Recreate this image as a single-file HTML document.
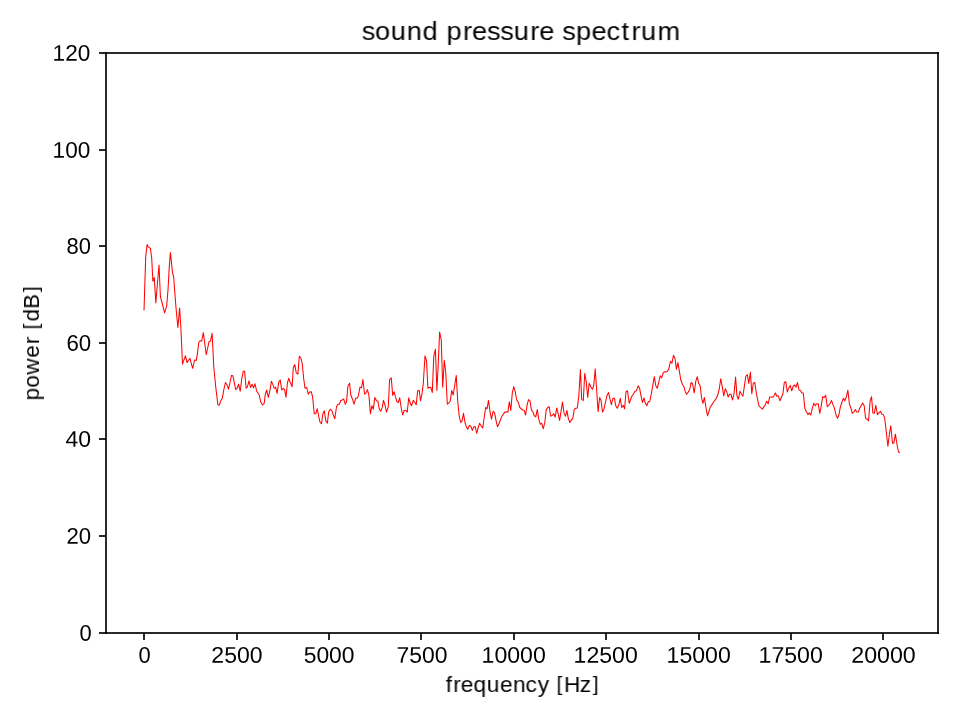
<!DOCTYPE html>
<html><head><meta charset="utf-8"><title>sound pressure spectrum</title>
<style>
html,body{margin:0;padding:0;background:#fff;}
body{width:960px;height:720px;overflow:hidden;font-family:"Liberation Sans",sans-serif;}
svg{display:block;}
text{font-family:"Liberation Sans",sans-serif;fill:#000;font-kerning:none;}
.ax rect{fill:#000;fill-opacity:0.835;shape-rendering:crispEdges;}
</style></head><body>
<svg width="960" height="720" viewBox="0 0 960 720">
<rect x="0" y="0" width="960" height="720" fill="#ffffff"/>
<polyline points="144.00,310.40 145.70,256.70 147.10,244.60 148.30,247.10 150.40,248.30 151.70,258.00 152.90,281.30 154.30,277.50 155.80,302.90 157.40,284.00 159.00,265.00 160.40,296.70 162.00,302.50 163.30,307.50 164.60,312.90 166.70,305.80 168.00,290.00 169.20,268.00 170.40,252.50 172.50,272.50 173.75,277.50 174.60,290.00 176.20,310.00 177.90,327.50 179.60,307.90 181.00,330.00 182.50,364.20 185.40,355.80 187.10,362.50 188.60,360.00 190.00,358.30 191.40,364.00 192.70,368.30 194.60,360.00 196.25,360.40 197.50,353.30 198.75,342.50 200.00,340.80 201.70,341.25 203.30,332.50 204.80,344.00 206.25,354.60 207.70,348.00 209.00,341.70 210.40,341.25 212.10,333.30 213.75,366.70 215.80,387.50 217.90,405.00 219.30,405.00 220.80,400.80 222.30,398.30 223.75,390.00 225.40,382.50 226.90,384.60 228.50,389.20 230.00,382.50 231.50,375.40 232.90,375.80 234.60,384.20 235.80,389.60 237.10,388.30 238.60,384.20 240.20,391.25 241.70,379.20 243.20,371.25 244.60,371.25 246.10,388.30 247.50,386.70 249.00,380.80 250.60,387.50 252.10,384.20 253.60,387.90 255.00,383.75 256.70,391.25 259.20,395.00 260.80,402.10 262.50,405.00 264.20,403.30 265.20,395.00 266.70,390.00 268.30,397.50 269.80,390.80 271.40,381.25 272.90,384.60 274.20,388.30 275.60,387.10 277.10,393.30 278.75,382.10 280.25,380.00 281.70,390.00 283.30,388.30 284.60,389.60 286.00,397.10 287.50,382.50 288.75,378.30 290.00,381.70 292.10,386.70 293.30,367.50 294.80,364.60 296.25,372.90 297.90,374.20 299.30,356.25 300.80,357.90 302.30,364.20 303.75,379.20 305.00,388.30 306.70,387.50 308.30,394.20 309.60,392.10 311.25,391.70 312.70,397.50 314.20,413.75 315.70,413.75 317.25,408.75 318.75,416.70 320.00,422.10 321.50,423.75 322.75,414.20 324.30,410.80 325.80,420.80 327.30,423.30 328.75,411.70 330.40,409.20 331.90,410.80 333.30,415.00 334.80,418.75 336.50,406.70 337.90,404.20 339.40,404.20 340.80,400.40 342.30,400.00 343.60,398.75 345.25,404.20 346.50,402.10 347.90,386.25 349.60,383.30 350.80,395.00 352.50,399.20 354.00,404.20 355.70,398.30 357.10,398.30 358.30,396.25 360.00,387.10 361.50,387.90 362.90,379.60 364.60,394.20 366.00,392.90 367.50,389.60 369.00,396.25 370.40,413.75 371.90,405.80 373.30,409.20 374.80,397.50 376.50,400.80 377.90,401.25 379.20,408.75 380.70,411.25 382.10,407.90 383.50,400.40 385.00,405.00 386.50,412.10 388.30,406.70 389.60,379.60 391.25,377.90 392.70,395.40 394.10,391.70 395.40,396.70 396.90,401.70 398.30,402.50 399.75,397.70 401.25,408.30 402.70,415.00 404.20,410.40 405.70,410.40 407.25,412.10 408.75,397.70 410.00,402.50 411.50,405.80 413.30,400.40 414.80,402.50 416.25,404.60 417.60,391.00 419.20,390.20 420.50,400.80 422.10,393.30 423.30,383.30 425.00,355.80 426.50,360.80 427.90,388.30 429.20,387.50 430.80,387.30 432.30,392.50 433.75,356.70 435.40,349.20 436.90,390.40 438.30,363.00 439.60,332.10 441.25,339.60 442.70,387.30 444.30,360.40 445.80,373.00 447.30,404.20 448.75,402.90 450.25,401.25 451.70,390.40 453.20,395.00 454.60,386.00 456.25,375.40 457.75,401.70 459.20,416.00 460.70,422.50 462.10,420.80 463.50,413.30 465.00,422.50 466.25,426.70 467.75,429.20 469.30,425.40 470.80,426.25 472.30,430.40 473.75,426.70 475.25,426.70 476.70,433.30 478.20,427.50 479.60,423.30 481.10,425.80 482.70,427.90 484.20,417.50 485.70,407.50 487.10,408.75 488.50,400.40 490.00,411.70 491.50,419.20 493.10,411.25 494.60,412.90 496.10,420.80 497.50,426.70 499.20,423.30 500.40,420.00 501.90,416.25 503.30,414.20 505.00,412.10 506.50,411.70 507.90,412.10 509.30,401.70 510.80,410.40 512.30,392.90 513.75,386.70 515.20,391.70 516.70,400.00 518.20,402.10 519.75,407.50 521.25,408.75 522.75,410.00 524.20,410.40 525.60,415.00 527.10,405.00 528.50,399.60 530.00,400.80 531.50,410.40 532.90,411.70 534.30,415.80 535.80,416.70 537.30,409.60 538.75,419.20 540.25,424.20 541.70,423.30 543.30,428.75 544.80,422.50 546.25,409.60 547.75,407.50 549.20,406.70 550.70,416.25 552.25,415.40 553.75,413.75 555.20,417.10 556.70,407.90 558.20,414.20 559.60,420.40 561.00,411.70 562.50,402.10 564.00,412.90 565.60,416.25 566.90,410.40 568.30,418.30 569.80,422.50 571.25,420.00 572.75,418.75 574.30,409.20 575.80,408.30 577.30,407.90 578.75,396.70 580.40,369.60 581.70,399.60 583.30,400.40 584.75,373.30 586.25,381.70 587.70,397.50 589.20,383.30 590.80,386.70 592.30,389.20 593.75,385.80 595.20,368.75 596.70,390.80 598.10,411.70 599.60,397.50 601.00,400.40 602.50,412.10 604.00,409.20 605.40,402.50 606.90,395.80 608.50,392.50 610.00,399.20 611.40,404.60 612.90,398.30 614.40,398.30 615.80,405.80 617.30,408.30 618.75,405.00 620.25,398.30 621.70,407.50 623.30,405.40 624.60,408.75 626.00,391.70 627.50,390.80 629.20,403.30 630.70,399.20 632.10,395.80 633.60,393.75 635.00,391.25 636.40,390.80 638.10,385.80 639.60,388.30 641.00,395.80 642.50,402.50 644.00,397.90 645.40,403.30 646.80,405.80 648.30,401.70 649.80,401.25 651.25,394.20 652.70,385.80 654.30,376.70 655.80,385.80 657.25,388.30 658.75,382.50 660.20,375.80 661.70,377.90 663.20,372.90 664.60,371.70 666.10,372.10 667.50,371.25 669.00,368.30 670.40,361.25 671.90,363.30 673.50,355.40 675.00,358.30 676.40,369.20 677.90,362.50 679.30,370.80 680.80,380.00 682.30,384.20 683.90,386.70 685.25,391.70 686.70,394.20 688.20,392.10 689.60,390.00 691.10,382.50 692.50,383.75 694.20,392.90 695.70,381.70 697.25,376.70 698.60,383.30 700.20,385.80 701.50,397.50 702.90,403.30 704.40,397.50 705.80,406.70 707.50,415.80 708.90,411.70 710.40,406.70 711.90,404.60 713.30,402.50 715.00,400.00 716.40,398.30 717.75,395.00 719.20,389.20 720.70,378.75 722.10,385.80 723.75,395.80 725.25,388.75 726.70,391.70 728.20,397.10 729.60,394.20 731.10,394.60 732.50,400.00 734.00,393.75 735.60,377.10 736.90,395.40 738.30,399.20 740.00,391.25 741.40,394.20 742.90,396.25 744.30,386.70 745.80,376.25 747.30,374.60 748.75,383.30 750.40,372.10 751.80,393.75 753.30,383.30 754.80,382.50 756.25,392.50 757.70,400.00 759.00,405.80 760.60,407.50 762.30,409.20 763.75,407.10 765.25,405.00 766.70,401.25 768.20,403.75 769.60,397.10 771.10,397.10 772.50,397.30 774.00,395.80 775.40,392.90 776.90,396.25 778.30,395.80 780.00,400.80 781.40,397.50 782.90,393.75 784.30,382.50 785.80,381.70 787.30,392.10 788.75,387.90 790.25,385.40 791.70,390.80 793.20,386.25 794.60,385.00 796.10,387.10 797.50,382.50 799.00,390.00 800.40,390.40 801.90,392.90 803.30,392.90 804.80,408.30 806.40,411.70 807.90,414.60 809.30,412.90 810.80,415.00 812.30,408.30 813.75,403.30 815.25,405.80 816.70,403.75 818.20,403.75 819.80,413.30 821.25,405.80 822.70,396.70 824.20,397.50 825.70,395.40 827.25,406.70 828.60,405.40 830.00,403.75 831.50,400.40 832.90,404.60 834.40,407.90 835.80,414.20 837.50,418.30 838.90,415.00 840.40,406.70 841.90,402.50 843.30,398.30 844.80,400.80 846.40,396.70 847.90,390.20 849.40,404.20 850.80,407.50 852.30,413.30 853.75,412.10 855.25,409.60 856.70,412.10 858.30,412.10 859.75,408.30 861.25,405.40 862.70,402.90 864.20,405.80 865.60,418.30 867.10,419.20 868.60,420.80 870.00,401.70 871.50,396.70 872.90,412.90 874.30,413.30 875.80,405.40 877.50,414.60 878.90,412.90 880.40,411.25 881.90,414.20 883.30,414.60 884.75,418.30 886.25,431.70 887.90,446.20 889.30,435.00 890.75,425.80 892.50,443.30 893.75,443.30 895.40,434.20 897.10,445.00 898.50,452.10 900.00,452.50" fill="none" stroke="#ff0000" stroke-width="1.04" stroke-linejoin="round" stroke-linecap="butt"/>
<g class="ax">
<rect x="105" y="52" width="834" height="2"/>
<rect x="105" y="632" width="834" height="2"/>
<rect x="105" y="52" width="2" height="582"/>
<rect x="937" y="52" width="2" height="582"/>
<rect x="143" y="633" width="2" height="7"/>
<rect x="236" y="633" width="2" height="7"/>
<rect x="328" y="633" width="2" height="7"/>
<rect x="420" y="633" width="2" height="7"/>
<rect x="513" y="633" width="2" height="7"/>
<rect x="605" y="633" width="2" height="7"/>
<rect x="698" y="633" width="2" height="7"/>
<rect x="790" y="633" width="2" height="7"/>
<rect x="882" y="633" width="2" height="7"/>
<rect x="99" y="632" width="7" height="2"/>
<rect x="99" y="535" width="7" height="2"/>
<rect x="99" y="438" width="7" height="2"/>
<rect x="99" y="342" width="7" height="2"/>
<rect x="99" y="245" width="7" height="2"/>
<rect x="99" y="149" width="7" height="2"/>
<rect x="99" y="52" width="7" height="2"/>
</g>
<g opacity="0.999">
<text transform="translate(138.54 662.80) rotate(0.03)" font-size="22.7" textLength="12.17" lengthAdjust="spacingAndGlyphs">0</text>
<text transform="translate(211.34 662.80) rotate(0.03)" font-size="22.7" textLength="51.16" lengthAdjust="spacingAndGlyphs">2500</text>
<text transform="translate(303.71 662.80) rotate(0.03)" font-size="22.7" textLength="50.79" lengthAdjust="spacingAndGlyphs">5000</text>
<text transform="translate(396.58 662.80) rotate(0.03)" font-size="22.7" textLength="50.92" lengthAdjust="spacingAndGlyphs">7500</text>
<text transform="translate(481.55 662.80) rotate(0.03)" font-size="22.7" textLength="64.21" lengthAdjust="spacingAndGlyphs">10000</text>
<text transform="translate(573.55 662.80) rotate(0.03)" font-size="22.7" textLength="64.21" lengthAdjust="spacingAndGlyphs">12500</text>
<text transform="translate(666.55 662.80) rotate(0.03)" font-size="22.7" textLength="64.21" lengthAdjust="spacingAndGlyphs">15000</text>
<text transform="translate(758.55 662.80) rotate(0.03)" font-size="22.7" textLength="64.21" lengthAdjust="spacingAndGlyphs">17500</text>
<text transform="translate(851.33 662.80) rotate(0.03)" font-size="22.7" textLength="64.43" lengthAdjust="spacingAndGlyphs">20000</text>
<text transform="translate(79.54 640.78) rotate(0.03)" font-size="22.7" textLength="12.17" lengthAdjust="spacingAndGlyphs">0</text>
<text transform="translate(66.39 543.80) rotate(0.03)" font-size="22.7" textLength="24.58" lengthAdjust="spacingAndGlyphs">20</text>
<text transform="translate(65.47 446.80) rotate(0.03)" font-size="22.7" textLength="25.52" lengthAdjust="spacingAndGlyphs">40</text>
<text transform="translate(66.39 350.76) rotate(0.03)" font-size="22.7" textLength="24.70" lengthAdjust="spacingAndGlyphs">60</text>
<text transform="translate(66.45 253.78) rotate(0.03)" font-size="22.7" textLength="24.39" lengthAdjust="spacingAndGlyphs">80</text>
<text transform="translate(52.59 157.80) rotate(0.03)" font-size="22.7" textLength="37.64" lengthAdjust="spacingAndGlyphs">100</text>
<text transform="translate(52.59 60.80) rotate(0.03)" font-size="22.7" textLength="37.64" lengthAdjust="spacingAndGlyphs">120</text>
<text transform="translate(521.13 40.00) rotate(0.03) scale(1.0486 1)" font-size="25.87" x="-151.87 -139.21 -124.37 -109.10 -94.12 -82.58 -71.05 -55.35 -46.88 -32.44 -19.98 -7.12 8.76 17.23 28.25 39.28 52.34 67.20 81.53 95.89 105.29 114.41 130.18">sound pressure spectrum</text>
<text transform="translate(521.41 692.00) rotate(0.03) scale(1.0556 1)" font-size="21.48" x="-71.57 -64.52 -57.54 -45.36 -32.77 -20.36 -8.04 3.96 15.46 24.38 33.29 40.31 55.40 67.68">frequency <tspan font-size="19.93" dy="-1.40">[</tspan><tspan dy="1.40">H</tspan>z<tspan font-size="19.93" dy="-1.40">]</tspan></text>
<text transform="translate(39.00 343.43) rotate(-90.03) scale(1.0389 1)" font-size="21.48" x="-54.91 -42.49 -29.92 -13.68 -0.63 6.44 13.50 21.23 33.39 49.39">power <tspan font-size="19.93" dy="-1.40">[</tspan><tspan dy="1.40">d</tspan>B<tspan font-size="19.93" dy="-1.40">]</tspan></text>
</g>
</svg>
</body></html>
